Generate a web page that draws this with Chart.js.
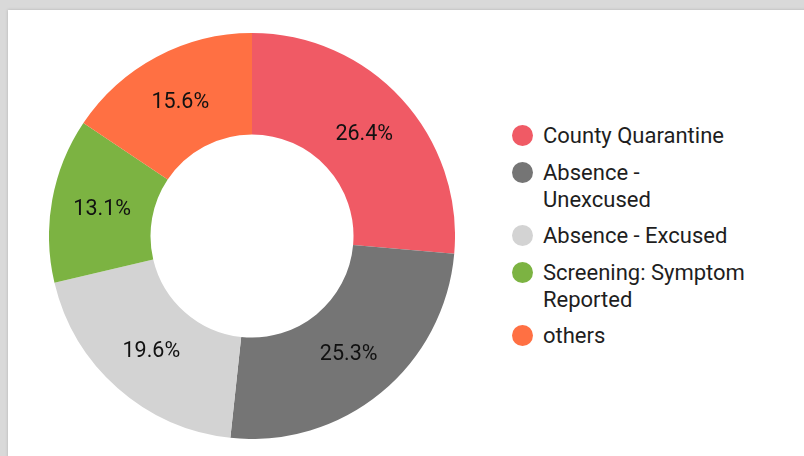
<!DOCTYPE html>
<html>
<head>
<meta charset="utf-8">
<script src="https://cdn.jsdelivr.net/npm/chart.js@4/dist/chart.umd.min.js"></script>
<style>
  html, body { margin: 0; padding: 0; }
  body {
    width: 804px;
    height: 456px;
    background: #d9d9d9;
    overflow: hidden;
    position: relative;
    font-family: Roboto, "Noto Sans", sans-serif;
  }
  .card {
    position: absolute;
    left: 8px;
    top: 10px;
    width: 820px;
    height: 470px;
    background: #fff;
    box-shadow: 0 0 3px rgba(0, 0, 0, 0.18);
  }
  .chart-box {
    position: absolute;
    left: 49px;
    top: 33px;
    width: 406px;
    height: 406px;
  }
  .legend {
    position: absolute;
    left: 512px;
    top: 122px;
    margin: 0;
    padding: 0;
    list-style: none;
    color: #1e1e1e;
    font-size: 22px;
    line-height: 27px;
  }
  .legend li {
    position: relative;
    padding-left: 31px;
    margin-bottom: 9.5px;
  }
  .legend .dot {
    position: absolute;
    left: 0;
    top: 3px;
    width: 21px;
    height: 21px;
    border-radius: 50%;
  }
</style>
</head>
<body>
<div class="card"></div>
<div class="chart-box"><canvas id="donut"></canvas></div>
<ul class="legend" id="legend"></ul>
<script>
(() => {
  const labels = [
    ["County Quarantine"],
    ["Absence -", "Unexcused"],
    ["Absence - Excused"],
    ["Screening: Symptom", "Reported"],
    ["others"],
  ];
  const shares = [26.4, 25.3, 19.6, 13.1, 15.6];
  const colors = ["#f05a65", "#757575", "#d3d3d3", "#7cb342", "#ff7043"];

  const legendEl = document.getElementById("legend");
  legendEl.innerHTML = labels.map((lines, i) => (
    `<li><span class="dot" style="background:${colors[i]}"></span>${lines.join("<br>")}</li>`
  )).join("");

  const sliceLabels = {
    id: "sliceLabels",
    afterDatasetsDraw(chart) {
      const { ctx } = chart;
      const meta = chart.getDatasetMeta(0);
      ctx.save();
      ctx.font = "21.5px Roboto, 'Noto Sans', sans-serif";
      ctx.fillStyle = "#111";
      ctx.textAlign = "center";
      ctx.textBaseline = "middle";
      meta.data.forEach((arc, i) => {
        const pos = arc.tooltipPosition();
        ctx.fillText(`${shares[i].toFixed(1)}%`, pos.x, pos.y + 1);
      });
      ctx.restore();
    },
  };

  new Chart(document.getElementById("donut"), {
    type: "doughnut",
    data: {
      labels: labels.map((lines) => lines.join(" ")),
      datasets: [{
        data: shares,
        backgroundColor: colors,
        borderWidth: 0,
        hoverOffset: 0,
      }],
    },
    options: {
      responsive: true,
      maintainAspectRatio: false,
      animation: false,
      cutout: "50%",
      layout: { padding: 0 },
      plugins: {
        legend: { display: false },
        tooltip: { enabled: false },
      },
    },
    plugins: [sliceLabels],
  });
})();
</script>
</body>
</html>
